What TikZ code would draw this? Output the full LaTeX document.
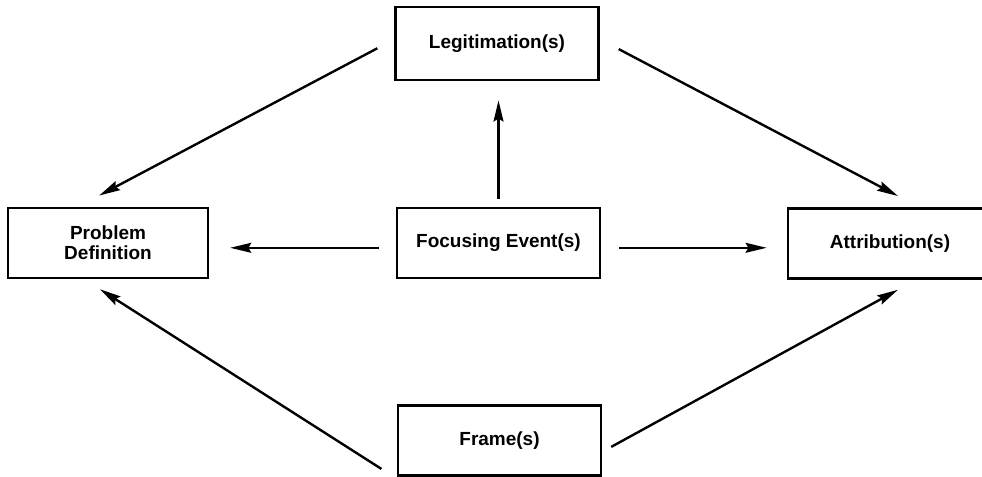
\documentclass[tikz,border=0pt]{standalone}
\usepackage{fontspec}
\setmainfont{Liberation Sans}
\usetikzlibrary{arrows.meta,positioning}

\begin{document}
\begin{tikzpicture}[
  x=0.025cm, y=-0.025cm,
  every node/.style={font=\fontsize{13.5}{14.5}\selectfont\bfseries},
  conbox/.style={draw,line width=1.8pt,minimum width=5.08cm,minimum height=1.75cm,
                 align=center,inner sep=0pt},
  arr/.style={-{Stealth[length=15pt,width=7pt,inset=2pt]},line width=1.7pt},
]
  \useasboundingbox (0,0) rectangle (982,477);

  % top and bottom
  \node[conbox,minimum height=1.82cm] (legit) at (497,43.5) {Legitimation(s)};
  \node[conbox] (frame) at (499.5,440.5) {Frame(s)};

  % middle row
  \node[conbox,minimum width=5cm] (prob)  at (108,243) {Problem\\Definition};
  \node[conbox] (focus) at (498.5,243) {Focusing Event(s)};
  \node[conbox,minimum width=5.1cm] (attr) at (890,243.5) {Attribution(s)};

  % from legitimation
  \draw[arr] ([xshift=-0.42cm,yshift=-0.12cm]legit.west) -- ([xshift=-0.22cm,yshift=0.28cm]prob.north);
  \draw[arr] ([xshift=0.47cm,yshift=-0.14cm]legit.east) -- ([xshift=0.2cm,yshift=0.28cm]attr.north);

  % from focusing event
  \draw[arr] ([yshift=0.2cm]focus.north) -- ([yshift=-0.48cm]focus.north |- legit.south);
  \draw[arr] ([xshift=-0.42cm,yshift=-0.12cm]focus.west) -- ([xshift=0.52cm,yshift=-0.12cm]prob.east);
  \draw[arr] ([xshift=0.45cm,yshift=-0.12cm]focus.east) -- ([xshift=-0.5cm,yshift=-0.12cm]focus.east -| attr.west);

  % from frame
  \draw[arr] ([xshift=-0.38cm,yshift=-0.71cm]frame.west) -- ([xshift=-0.2cm,yshift=-0.25cm]prob.south);
  \draw[arr] ([xshift=0.22cm,yshift=-0.16cm]frame.east) -- ([xshift=0.2cm,yshift=-0.25cm]attr.south);
\end{tikzpicture}
\end{document}
